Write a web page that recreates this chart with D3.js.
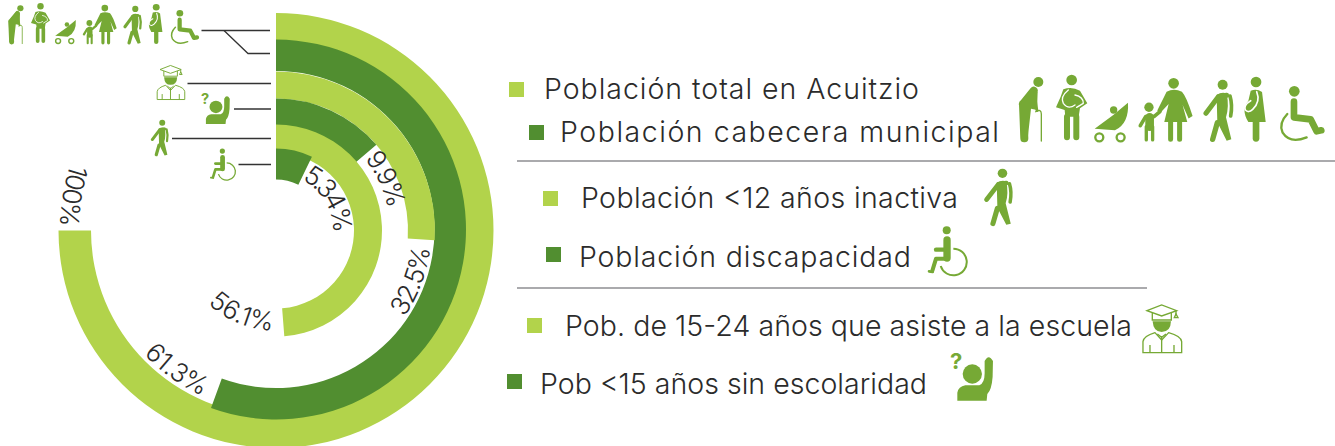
<!DOCTYPE html>
<html>
<head>
<meta charset="utf-8">
<script src="https://cdn.jsdelivr.net/npm/d3@7"></script>
<style>
  html, body { margin: 0; padding: 0; background: #fff; }
  svg { display: block; }
  text { font-family: Inter, "Open Sans", sans-serif; font-weight: 300; fill: #2b2b2b; }
</style>
</head>
<body>
<svg id="chart"></svg>
<script>
// values printed on the rings, outer to inner
const ringLabels = ["100%", "61.3%", "32.5%", "9.9%", "56.1%", "5.34%"];
const ringValues = [100, 61.3, 32.5, 9.9, 56.1, 5.34];

// the rings are not drawn proportionally, this is the sweep read from the picture
const sweepValues = [0, 5.34, 9.9, 32.5, 56.1, 61.3, 100];
const sweepDegrees = [0, 26, 49.5, 93.5, 175.5, 200, 270];

const ringOuter = [217.5, 190, 159, 132, 106, 82];
const ringInner = [185, 158.5, 132, 105, 78, 51];
const ringCy = [230.5, 229.5, 230.5, 230.5, 230.5, 230.5];
const ringFill = ["light", "dark", "light", "dark", "light", "dark"];

// label baseline on the ring: radius, start and end angle in degrees
const labelRadius = [216, 181, 155, 114, 100, 57];
const labelStart = [288, 227, 124, 51, 223, 27];
const labelEnd = [271.5, 204, 97, 78, 182, 90];

const legendLabels = [
  "Población total en Acuitzio",
  "Población cabecera municipal",
  "Población <12 años inactiva",
  "Población discapacidad",
  "Pob. de 15-24 años que asiste a la escuela",
  "Pob <15 años sin escolaridad",
];
const legendFill = ["light", "dark", "light", "dark", "light", "dark"];
const legendSquareX = [509, 529, 543, 546, 527, 507];
const legendSquareY = [82, 125, 191, 247, 318, 374];
const legendTextX = [544, 560, 581, 579, 565, 540];
const legendTextEnd = [919, 999, 958, 911, 1132, 927];
const legendBaseline = [99, 142, 208, 267, 336, 394];

const w = 1335;
const h = 446;
const cx = 276;
const colors = { light: "#b2d34b", dark: "#518e30", icon: "#76a935" };

const svg = d3.select("#chart").attr("width", w).attr("height", h).attr("viewBox", `0 0 ${w} ${h}`);
const defs = svg.append("defs");

const angle = d3
  .scaleLinear()
  .domain(sweepValues)
  .range(sweepDegrees.map((d) => (d * Math.PI) / 180));

// rings
const arc = d3.arc();
svg
  .append("g")
  .selectAll("path")
  .data(ringValues)
  .join("path")
  .attr("transform", (d, i) => `translate(${cx},${ringCy[i]})`)
  .attr("fill", (d, i) => colors[ringFill[i]])
  .attr("d", (d, i) =>
    arc({
      innerRadius: ringInner[i],
      outerRadius: ringOuter[i],
      startAngle: 0,
      endAngle: angle(d),
    })
  );

// ring labels follow the curve, letter spacing stretches them over their arc
const toRad = (deg) => ((deg - 90) * Math.PI) / 180;
ringLabels.forEach((label, i) => {
  const p = d3.path();
  const ccw = labelEnd[i] < labelStart[i];
  p.arc(cx, 230.5, labelRadius[i], toRad(labelStart[i]), toRad(labelEnd[i]), ccw);
  defs.append("path").attr("id", `label-${i}`).attr("d", p.toString());
  const t = svg.append("text").attr("font-size", 26);
  const tp = t.append("textPath").attr("href", `#label-${i}`).text(label);
  const arcLength = (labelRadius[i] * Math.abs(labelEnd[i] - labelStart[i]) * Math.PI) / 180;
  const natural = t.node().getComputedTextLength();
  tp.style("letter-spacing", `${(arcLength - natural) / label.length}px`);
});

// leader lines
const leaders = [
  [[201.5, 30.5], [270, 30.5]],
  [[224, 30.5], [248, 53.5], [270, 53.5]],
  [[187.5, 83.5], [271, 83.5]],
  [[234, 109], [271, 109]],
  [[172, 138.5], [271, 138.5]],
  [[238.5, 164.5], [271, 164.5]],
];
svg
  .append("g")
  .selectAll("path")
  .data(leaders)
  .join("path")
  .attr("d", d3.line())
  .attr("fill", "none")
  .attr("stroke", "#333")
  .attr("stroke-width", 1.3);

// legend
svg
  .append("g")
  .selectAll("rect")
  .data(legendFill)
  .join("rect")
  .attr("x", (d, i) => legendSquareX[i])
  .attr("y", (d, i) => legendSquareY[i])
  .attr("width", 15)
  .attr("height", 15)
  .attr("fill", (d) => colors[d]);

svg
  .append("g")
  .selectAll("text")
  .data(legendLabels)
  .join("text")
  .attr("x", (d, i) => legendTextX[i])
  .attr("y", (d, i) => legendBaseline[i])
  .attr("font-size", 28.5)
  .attr("textLength", (d, i) => legendTextEnd[i] - legendTextX[i])
  .attr("lengthAdjust", "spacing")
  .text((d) => d);

svg
  .append("g")
  .selectAll("line")
  .data([[517, 1335, 161], [517, 1147, 288]])
  .join("line")
  .attr("x1", (d) => d[0])
  .attr("x2", (d) => d[1])
  .attr("y1", (d) => d[2])
  .attr("y2", (d) => d[2])
  .attr("stroke", "#aaaaad")
  .attr("stroke-width", 2);

// pictograms, each drawn in its own coordinates with a known bounding box
const dot = (g, x, y, r) => g.append("circle").attr("cx", x).attr("cy", y).attr("r", r).attr("fill", colors.icon);
const solid = (g, d) => g.append("path").attr("d", d).attr("fill", colors.icon);
const stroke = (g, d, sw, color) =>
  g
    .append("path")
    .attr("d", d)
    .attr("fill", "none")
    .attr("stroke", color || colors.icon)
    .attr("stroke-width", sw)
    .attr("stroke-linecap", "round")
    .attr("stroke-linejoin", "round");

const icons = {
  elder: {
    box: [58, 50, 72, 195],
    draw(g) {
      dot(g, 116, 66, 15);
      stroke(g, "M70 132 L102 92 M70 132 L74 235", 24);
      solid(g, "M60 130 L96 84 L114 96 L112 150 L94 146 L84 236 L64 236 Z");
      stroke(g, "M104 96 L112 152", 8);
      stroke(g, "M108 155 Q125 145 125 162 L125 243", 4);
    },
  },
  mother: {
    box: [168, 45, 94, 197],
    draw(g) {
      dot(g, 215, 60, 16);
      solid(g, "M190 88 Q215 78 240 92 L262 130 L240 145 L236 170 L196 170 L194 150 L168 142 L182 110 Z");
      stroke(g, "M201 170 L201 232 M229 170 L229 232", 18);
      stroke(g, "M205 90 Q180 110 190 130 Q205 150 225 135 M225 105 Q250 110 250 130 L230 142", 4, "#fff");
    },
  },
  stroller: {
    box: [283, 128, 102, 120],
    draw(g) {
      dot(g, 341, 150, 11);
      solid(g, "M284 206 L340 165 L384 128 Q388 190 345 211 Z");
      g.selectAll(null)
        .data([298, 362])
        .join("circle")
        .attr("cx", (d) => d)
        .attr("cy", 232)
        .attr("r", 12)
        .attr("fill", "none")
        .attr("stroke", colors.icon)
        .attr("stroke-width", 7);
    },
  },
  family: {
    box: [415, 55, 163, 190],
    draw(g) {
      dot(g, 447, 142, 14);
      stroke(g, "M421 197 L437 170 L462 170 L480 155", 11);
      stroke(g, "M449 172 L449 200", 26);
      stroke(g, "M439 200 L439 240 M458 200 L458 240", 10);
      dot(g, 521, 70, 16);
      solid(g, "M500 95 Q522 84 546 95 Q560 110 578 168 L566 176 L548 135 L562 186 L493 186 L506 132 L480 160 L472 152 Z");
      stroke(g, "M512 186 L512 238 M539 186 L539 238", 15);
    },
  },
  walker: {
    box: [610, 60, 92, 188],
    draw(g) {
      dot(g, 668, 74, 15);
      stroke(g, "M618 160 L655 110 L680 106", 15);
      solid(g, "M650 105 Q665 94 680 100 Q688 140 678 172 L694 238 L680 242 L652 186 Z");
      stroke(g, "M690 108 Q698 135 692 168", 11);
      stroke(g, "M652 188 L638 238", 16);
    },
  },
  pregnant: {
    box: [728, 50, 69, 195],
    draw(g) {
      dot(g, 768, 66, 16);
      solid(g, "M752 92 Q770 84 786 96 L797 186 L745 186 Q722 150 745 122 Z");
      stroke(g, "M768 185 L768 235", 20);
      stroke(g, "M770 95 Q782 125 758 148 Q745 160 736 150 Q730 135 752 122", 5, "#fff");
    },
  },
  wheelRight: {
    box: [838, 78, 132, 170],
    draw(g) {
      dot(g, 883, 94, 16);
      stroke(g, "M882 125 L882 172 L932 178 L950 214 L964 211", 20);
      stroke(g, "M862 162 Q835 190 848 218 Q870 252 920 232", 7);
    },
  },
  wheelLeft: {
    box: [83, 198, 120, 150],
    draw(g) {
      dot(g, 140, 211, 12);
      stroke(g, "M141 240 L141 294", 22);
      stroke(g, "M108 269 L135 269", 13);
      stroke(g, "M141 296 L108 296 L97 332", 12);
      stroke(g, "M87 334 L98 336", 8);
      g.append("path")
        .attr("d", "M160 266 A40 40 0 1 1 122 318")
        .attr("fill", "none")
        .attr("stroke", colors.icon)
        .attr("stroke-width", 6);
    },
  },
  graduate: {
    box: [727, 433, 119, 147],
    draw(g) {
      const thin = (d) =>
        g.append("path").attr("d", d).attr("fill", "none").attr("stroke", colors.icon).attr("stroke-width", 4);
      thin("M741 452 L785 435 L830 452 L785 468 Z");
      thin("M757 458 L757 480 L814 480 L814 458");
      thin("M828 452 L828 466");
      thin("M823 473 L828 462 L834 473 Z");
      solid(g, "M758 484 L813 484 Q812 516 785 516 Q760 516 758 484 Z");
      thin("M729 578 L729 545 Q731 528 765 518 L785 540 L806 518 Q843 528 845 545 L845 578 Z");
      thin("M785 528 L785 578 M750 555 L750 578 M822 555 L822 578 M772 522 L785 532 L798 522");
    },
  },
  raised: {
    box: [150, 575, 130, 147],
    draw(g) {
      dot(g, 217, 642, 29);
      solid(g, "M172 722 L172 698 Q175 680 196 676 L238 676 Q254 670 254 640 L254 603 Q266 580 279 603 L278 650 Q275 690 262 702 L260 722 Z");
      g.append("text")
        .attr("x", 150)
        .attr("y", 628)
        .attr("font-size", 66)
        .style("font-weight", 700)
        .style("fill", colors.icon)
        .text("?");
    },
  },
};

// name, x, y, width, height on the page
const iconPlacements = [
  ["elder", 1019, 76.7, 24, 65],
  ["mother", 1056, 75, 31.3, 65.7],
  ["stroller", 1094.3, 102.7, 34, 40],
  ["family", 1138.3, 78.3, 54.3, 63.3],
  ["walker", 1203.3, 80, 30.7, 62.7],
  ["pregnant", 1242.7, 76.7, 23, 65],
  ["wheelRight", 1279.3, 86, 44, 56.7],
  ["elder", 8.3, 5, 15, 39],
  ["mother", 31, 3.3, 19, 40],
  ["stroller", 55, 20, 21, 24.3],
  ["family", 82.7, 5, 34, 39.3],
  ["walker", 123.3, 6, 19, 39],
  ["pregnant", 147.7, 4, 14.7, 40],
  ["wheelRight", 170.3, 10, 28, 35],
  ["graduate", 156.7, 65, 28.3, 35],
  ["graduate", 1142.3, 304.3, 39.7, 49],
  ["raised", 201, 92.7, 29, 31.3],
  ["raised", 950, 351.7, 43.3, 49],
  ["walker", 150.7, 120, 18.3, 36.7],
  ["walker", 984, 169, 29.3, 57.7],
  ["wheelLeft", 210, 148.3, 26, 32.3],
  ["wheelLeft", 927.7, 226, 40, 50],
];

iconPlacements.forEach(([name, x, y, pw, ph]) => {
  const icon = icons[name];
  const [bx, by, bw, bh] = icon.box;
  const g = svg
    .append("g")
    .attr("transform", `translate(${x},${y}) scale(${pw / bw},${ph / bh}) translate(${-bx},${-by})`);
  icon.draw(g);
});
</script>
</body>
</html>
